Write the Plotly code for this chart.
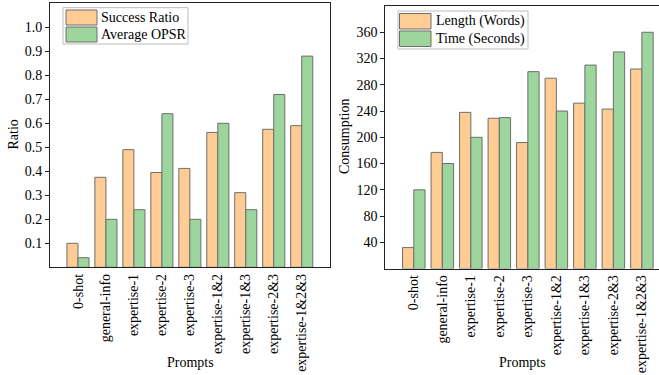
import plotly.graph_objects as go

W, H = 659, 375

prompts = ["0-shot", "general-info", "expertise-1", "expertise-2", "expertise-3",
           "expertise-1&2", "expertise-1&3", "expertise-2&3", "expertise-1&2&3"]
success_ratio = [0.10, 0.375, 0.49, 0.395, 0.412, 0.562, 0.311, 0.575, 0.59]
average_opsr = [0.04, 0.20, 0.24, 0.64, 0.20, 0.60, 0.24, 0.72, 0.88]
length_words = [32, 177, 238, 229, 192, 290, 252, 243, 304]
time_seconds = [120, 160, 200, 230, 300, 240, 310, 330, 360]

ratio_ticks = [0.1, 0.2, 0.3, 0.4, 0.5, 0.6, 0.7, 0.8, 0.9, 1.0]
cons_ticks = [40, 80, 120, 160, 200, 240, 280, 320, 360]

ORANGE = "#FFCC93"
GREEN = "#9CD69C"
EDGE = "#6E6E6E"
FONT = "Times New Roman, Liberation Serif, serif"


def px(x):
    return x / W


def py(y):
    return 1 - y / H


fig = go.Figure()
line = dict(color=EDGE, width=1)
fig.add_trace(go.Bar(x=prompts, y=success_ratio, name="Success Ratio",
                     marker=dict(color=ORANGE, line=line), xaxis="x", yaxis="y"))
fig.add_trace(go.Bar(x=prompts, y=average_opsr, name="Average OPSR",
                     marker=dict(color=GREEN, line=line), xaxis="x", yaxis="y"))
fig.add_trace(go.Bar(x=prompts, y=length_words, name="Length (Words)",
                     marker=dict(color=ORANGE, line=line), xaxis="x2", yaxis="y2"))
fig.add_trace(go.Bar(x=prompts, y=time_seconds, name="Time (Seconds)",
                     marker=dict(color=GREEN, line=line), xaxis="x2", yaxis="y2"))

axfont = dict(family=FONT, size=14, color="black")
common_x = dict(type="category", showline=True, linecolor="#222", linewidth=1,
                ticks="", tickangle=-90, tickfont=axfont, showgrid=False,
                zeroline=False, automargin=False)
common_y = dict(showline=True, linecolor="#222", linewidth=1, ticks="outside",
                ticklen=4, tickcolor="#222", tickfont=axfont, showgrid=False,
                zeroline=False, automargin=False)

fig.update_layout(
    template="none",
    width=W, height=H, autosize=False,
    margin=dict(l=0, r=0, t=0, b=0, pad=0),
    paper_bgcolor="white", plot_bgcolor="white",
    barmode="group", bargap=0.21, bargroupgap=0,
    showlegend=False,
    font=dict(family=FONT, size=14, color="black"),
    xaxis=dict(common_x, domain=[px(50), px(329.7)], range=[-1, 9],
               anchor="y", mirror=True),
    yaxis=dict(common_y, domain=[py(267.3), py(3.3)], range=[0, 1.1],
               tickvals=ratio_ticks, tickformat=".1f", anchor="x", mirror=True),
    xaxis2=dict(common_x, domain=[px(385.3), 1], range=[-1, 8.6],
                anchor="y2", mirror=True),
    yaxis2=dict(common_y, domain=[py(268.6), py(6)], range=[0, 400],
                tickvals=cons_ticks, anchor="x2", mirror=False),
)

annotations = [
    dict(text="Prompts", x=px(190), y=py(362), xref="paper", yref="paper",
         showarrow=False, xanchor="center", yanchor="middle", font=axfont),
    dict(text="Prompts", x=px(522), y=py(362), xref="paper", yref="paper",
         showarrow=False, xanchor="center", yanchor="middle", font=axfont),
    dict(text="Ratio", x=px(12.5), y=py(135), xref="paper", yref="paper",
         showarrow=False, textangle=-90, xanchor="center", yanchor="middle", font=axfont),
    dict(text="Consumption", x=px(345), y=py(137), xref="paper", yref="paper",
         showarrow=False, textangle=-90, xanchor="center", yanchor="middle", font=axfont),
]

shapes = []


def add_legend(x0, y0, x1, y1, sw_x0, sw_x1, rows, text_x):
    shapes.append(dict(type="rect", xref="paper", yref="paper",
                       x0=px(x0), x1=px(x1), y0=py(y1), y1=py(y0),
                       line=dict(color="#BDBDBD", width=1), fillcolor="white"))
    for (ry0, ry1, color, label) in rows:
        shapes.append(dict(type="rect", xref="paper", yref="paper",
                           x0=px(sw_x0), x1=px(sw_x1), y0=py(ry1), y1=py(ry0),
                           line=dict(color=EDGE, width=1), fillcolor=color))
        annotations.append(dict(text=label, x=px(text_x), y=py((ry0 + ry1) / 2),
                                xref="paper", yref="paper", showarrow=False,
                                xanchor="left", yanchor="middle",
                                font=dict(family=FONT, size=14, color="black")))


add_legend(63, 7.7, 188, 44, 66, 97,
           [(10, 25, ORANGE, "Success Ratio"), (27, 42, GREEN, "Average OPSR")], 99)
add_legend(398, 11, 528, 49, 399.5, 431,
           [(13.5, 29, ORANGE, "Length (Words)"), (31, 46.5, GREEN, "Time (Seconds)")], 434)

fig.update_layout(annotations=annotations, shapes=shapes)
fig.write_html("out.html",
               config={"displayModeBar": False, "staticPlot": True},
               post_script="document.body.style.margin='0';document.body.style.overflow='hidden';")
